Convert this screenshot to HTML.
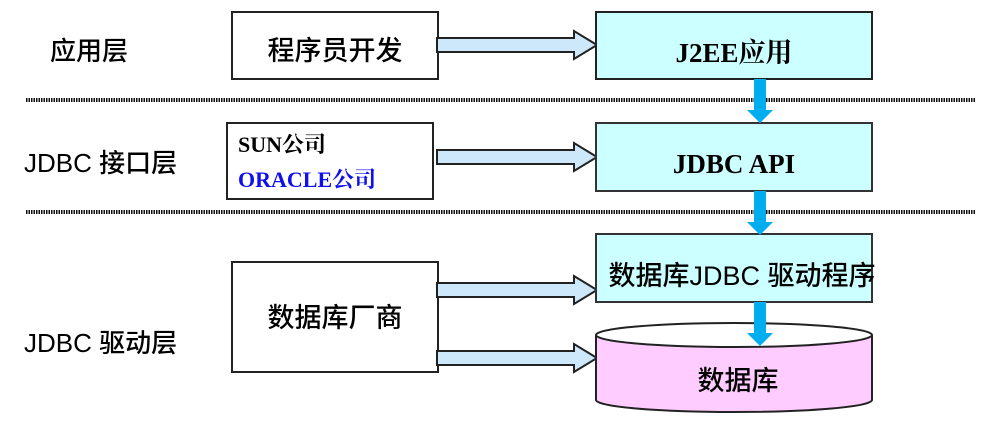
<!DOCTYPE html>
<html><head><meta charset="utf-8"><style>
body{margin:0;background:#fff;}
text{font-family:"Liberation Serif","Noto Serif CJK SC","Noto Sans CJK SC",serif;}
.s{font-family:"Liberation Sans","Noto Sans CJK SC",sans-serif;font-weight:500;}
</style></head><body>
<svg width="1006" height="424" viewBox="0 0 1006 424" xmlns="http://www.w3.org/2000/svg">
<defs>
<g id="ar"><polygon points="0,-7 137,-7 137,-14 160,0 137,14 137,7 0,7" fill="#cce8fa" stroke="#222" stroke-width="2"/></g>
<g id="ba"><rect x="-6" y="0" width="12" height="32" fill="#00aeef"/><polygon points="-13,31 13,31 0,44" fill="#00aeef"/></g>
</defs>
<line x1="26" y1="100" x2="976" y2="100" stroke="#111" stroke-width="4" stroke-dasharray="1.5 1"/>
<line x1="26" y1="212" x2="976" y2="212" stroke="#111" stroke-width="4" stroke-dasharray="1.5 1"/>

<text x="50" y="60" font-size="26" class="s">应用层</text>
<text x="24" y="172" font-size="26" class="s">JDBC 接口层</text>
<text x="24" y="352" font-size="26" class="s">JDBC 驱动层</text>

<rect x="232" y="12" width="206" height="67" fill="#fff" stroke="#222" stroke-width="2"/>
<text x="335" y="60" font-size="27" text-anchor="middle" class="s">程序员开发</text>
<rect x="227" y="123" width="206" height="76" fill="#fff" stroke="#222" stroke-width="2"/>
<text x="238" y="152" font-size="22" font-weight="bold">SUN公司</text>
<text x="238" y="187" font-size="22" font-weight="bold" fill="#1010ee">ORACLE公司</text>
<rect x="232" y="262" width="206" height="110" fill="#fff" stroke="#222" stroke-width="2"/>
<text x="335" y="327" font-size="27" text-anchor="middle" class="s">数据库厂商</text>

<use href="#ar" x="437" y="45"/>
<use href="#ar" x="437" y="157"/>
<use href="#ar" x="437" y="290"/>
<use href="#ar" x="437" y="358"/>

<rect x="596" y="12" width="276" height="67" fill="#ccffff" stroke="#222" stroke-width="2"/>
<text x="734" y="62" font-size="27" font-weight="bold" text-anchor="middle">J2EE应用</text>
<rect x="596" y="123" width="276" height="68" fill="#ccffff" stroke="#333" stroke-width="2"/>
<text x="734" y="173" font-size="27" font-weight="bold" text-anchor="middle">JDBC API</text>
<rect x="596" y="234" width="276" height="68" fill="#ccffff" stroke="#333" stroke-width="2"/>
<text x="742" y="285" font-size="27" text-anchor="middle" class="s">数据库JDBC 驱动程序</text>

<path d="M596,335 L596,400 A138,12 0 0 0 872,400 L872,335" fill="#ffccff" stroke="#222" stroke-width="2"/>
<ellipse cx="734" cy="335" rx="138" ry="12" fill="#fff" stroke="#222" stroke-width="2"/>
<text x="738" y="390" font-size="27" text-anchor="middle" class="s">数据库</text>

<use href="#ba" x="760" y="79"/>
<use href="#ba" x="760" y="191"/>
<use href="#ba" x="760" y="302"/>
</svg>
</body></html>
